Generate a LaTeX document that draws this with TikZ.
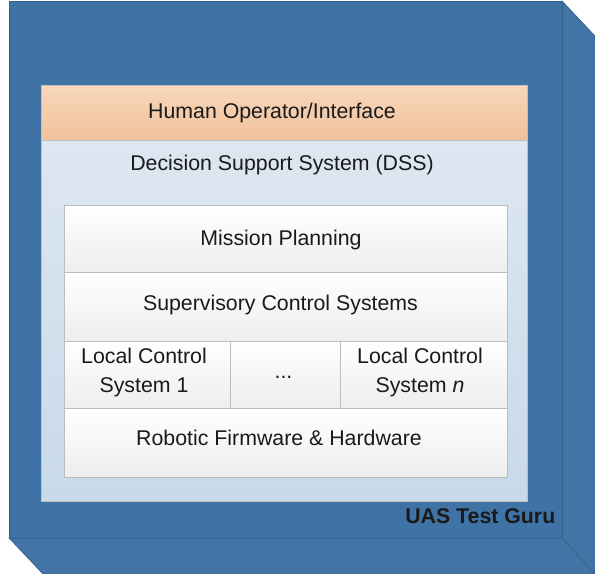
\documentclass[tikz,border=0pt]{standalone}
\usepackage{fontspec}
\setmainfont{Liberation Sans}
\definecolor{blu}{HTML}{3F73A5}
\definecolor{bluside}{HTML}{4275A6}
\definecolor{bluedge}{HTML}{33608C}
\definecolor{orgtop}{HTML}{F8D7BC}
\definecolor{orgbot}{HTML}{F1C19B}
\definecolor{lbtop}{HTML}{E0E9F2}
\definecolor{lbbot}{HTML}{C8D9EA}
\definecolor{cellline}{HTML}{BDBDBD}
\definecolor{ink}{HTML}{1A1A1A}
\begin{document}
\begin{tikzpicture}[x=1bp,y=-1bp,
  txt/.style={font=\fontsize{21.4}{30}\selectfont, text=ink, align=center, inner sep=0pt},
  cell/.style={draw=cellline, line width=1.2bp, top color=white, bottom color=black!7, inner sep=0pt, anchor=north west},
]
\useasboundingbox (0,0) rectangle (595,574);
% 3D box back faces
\coordinate (ftl) at (9,1);
\coordinate (ftr) at (562,1);
\coordinate (fbr) at (562,538);
\coordinate (fbl) at (9,538);
\coordinate (bbr) at (595,574);
\fill[bluside, draw=bluedge, line width=0.6bp] (ftr) -- ++(33,35) -- (bbr) -- (43,574) -- (fbl) -- (fbr) -- cycle;
\draw[bluedge, line width=0.6bp] (fbr) -- (bbr);
% front face
\node[draw=bluedge, line width=0.8bp, fill=blu, minimum width=553bp, minimum height=537bp, inner sep=0pt, anchor=north west] (front) at (ftl) {};
% DSS panel
\node[draw=black!25, line width=0.8bp, top color=lbtop, bottom color=lbbot, minimum width=486bp, minimum height=416bp, inner sep=0pt, anchor=north west] (dss) at (41,85) {};
\node[draw=black!25, line width=0.8bp, top color=orgtop, bottom color=orgbot, minimum width=486bp, minimum height=55bp, inner sep=0pt, anchor=north west] (hoi) at (41,85) {};
\node[txt, anchor=base] (hoit) at (272,118.5) {Human Operator/Interface};
\node[txt, anchor=base] (dsst) at (282,171) {Decision Support System (DSS)};
% inner cells
\node[cell, minimum width=443bp, minimum height=67bp] (mp) at (64,205) {};
\node[cell, minimum width=443bp, minimum height=69bp] (scs) at (64,272) {};
\node[cell, minimum width=166bp, minimum height=67bp] (lc1) at (64,341) {};
\node[cell, minimum width=110bp, minimum height=67bp] (dots) at (230,341) {};
\node[cell, minimum width=167bp, minimum height=67bp] (lcn) at (340,341) {};
\node[cell, minimum width=443bp, minimum height=69bp] (rfh) at (64,408) {};
% cell texts
\node[txt, anchor=base] (mpt) at (281,245) {Mission Planning};
\node[txt, anchor=base] (scst) at (280.5,310.5) {Supervisory Control Systems};
\node[txt] (lc1t) at (144,372.5) {Local Control\\System 1};
\node[txt, anchor=base] (dotst) at (283.5,378) {...};
\node[txt] (lcnt) at (420,372.5) {Local Control\\System \textit{n}};
\node[txt, anchor=base] (rfht) at (279,445) {Robotic Firmware \& Hardware};
% label
\node[txt, font=\fontsize{21.4}{25}\selectfont\bfseries, anchor=base east] (guru) at (555.5,523.5) {UAS Test Guru};
\end{tikzpicture}
\end{document}
